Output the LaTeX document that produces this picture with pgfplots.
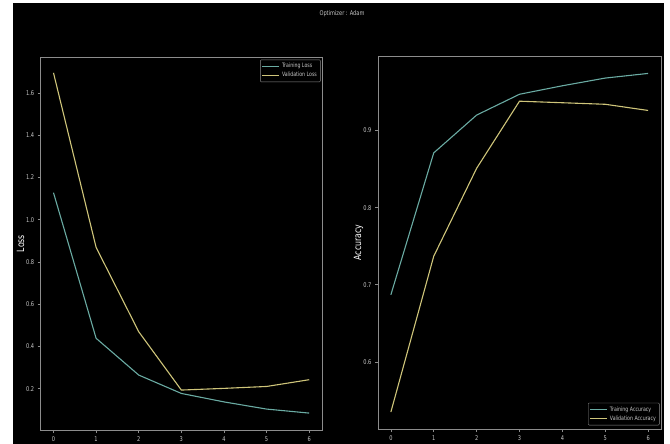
\documentclass[border=0pt]{standalone}
\usepackage{fontspec}
\setmainfont{DejaVu Sans}[FakeStretch=0.78]
\usepackage{pgfplots}
\pgfplotsset{compat=1.18}
\definecolor{tealc}{HTML}{6AABA3}
\definecolor{yelc}{HTML}{CFC57A}
\definecolor{axgrey}{HTML}{8C8C8C}
\definecolor{txtgrey}{HTML}{C8C8C8}
\begin{document}
\begin{tikzpicture}
\fill[white] (0pt,0pt) rectangle (670pt,-444pt);
\fill[black] (13pt,-3pt) rectangle (664pt,-444pt);
\useasboundingbox (0pt,0pt) rectangle (670pt,-444pt);
\node[text=txtgrey,font=\fontsize{6.5}{7}\selectfont] at (342pt,-14pt) {Optimizer : Adam};
\pgfplotsset{
  every axis/.append style={
    scale only axis,
    axis line style={axgrey, line width=0.8pt},
    tick style={axgrey, line width=0.6pt},
    tick align=outside,
    major tick length=3pt,
    xtick pos=bottom, ytick pos=left,
    ticklabel style={text=txtgrey, font=\fontsize{6.5}{7.5}\selectfont},
    /pgf/number format/assume math mode=true,
    xmin=-0.3, xmax=6.3,
    xtick={0,1,2,3,4,5,6},
    yticklabel style={/pgf/number format/.cd, fixed, fixed zerofill, precision=1},
    ylabel style={text=white, font=\fontsize{10}{12}\selectfont},
    legend style={fill=black, draw=axgrey, text=txtgrey, font=\fontsize{6}{7}\selectfont, rounded corners=1pt, row sep=-1pt, inner sep=1.5pt},
    legend cell align=left,
    every axis plot/.append style={line width=1.1pt, no marks},
  }
}
\begin{axis}[
  at={(40.7pt,-430pt)}, anchor=south west,
  width=281.3pt, height=373pt,
  ymin=0.005, ymax=1.77,
  ytick={0.2,0.4,0.6,0.8,1.0,1.2,1.4,1.6},
  ylabel={Loss},
  ylabel style={at={(axis description cs:-0.0718,0.5)}, anchor=center},
  legend style={at={(0.995,0.993)}, anchor=north east},
]
\addplot[tealc] coordinates {(0,1.128) (1,0.439) (2,0.265) (3,0.178) (4,0.138) (5,0.104) (6,0.085)};
\addlegendentry{Training Loss}
\addplot[yelc] coordinates {(0,1.695) (1,0.869) (2,0.470) (3,0.194) (4,0.202) (5,0.211) (6,0.243)};
\addlegendentry{Validation Loss}
\end{axis}
\begin{axis}[
  at={(378pt,-429pt)}, anchor=south west,
  width=283pt, height=373pt,
  ymin=0.513, ymax=0.9966,
  ytick={0.6,0.7,0.8,0.9},
  ylabel={Accuracy},
  ylabel style={at={(axis description cs:-0.0689,0.5)}, anchor=center},
  legend style={at={(0.995,0.01)}, anchor=south east},
]
\addplot[tealc] coordinates {(0,0.687) (1,0.871) (2,0.920) (3,0.947) (4,0.958) (5,0.968) (6,0.974)};
\addlegendentry{Training Accuracy}
\addplot[yelc] coordinates {(0,0.535) (1,0.737) (2,0.851) (3,0.938) (4,0.936) (5,0.934) (6,0.926)};
\addlegendentry{Validation Accuracy}
\end{axis}
\end{tikzpicture}
\end{document}
